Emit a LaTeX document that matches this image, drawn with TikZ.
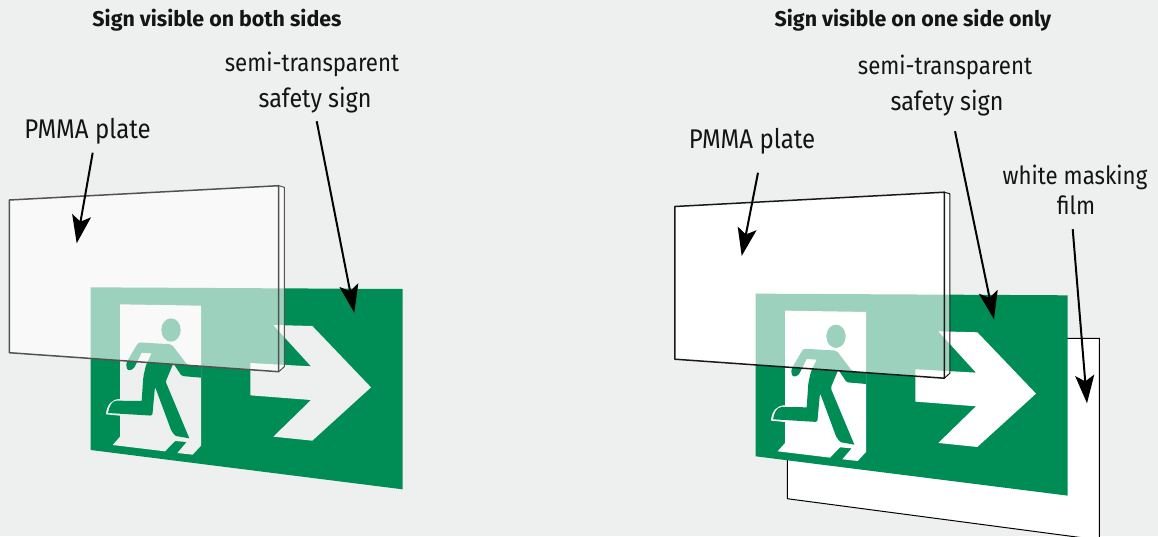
\documentclass[tikz,border=0pt]{standalone}
\usepackage{fontspec}
\setmainfont{Fira Sans}[FakeStretch=0.89]
\newfontfamily\titlefont{Fira Sans}
\usetikzlibrary{arrows.meta}
\definecolor{bgc}{HTML}{EEF0EF}
\definecolor{signgreen}{HTML}{008C55}
\tikzset{
  label text/.style={font=\fontsize{25}{25}\selectfont,inner sep=0pt,text=black!92},
  wide label/.style={font=\fontsize{26.2}{26}\selectfont,inner sep=0pt,text=black!92},
  pmma label/.style={font=\fontsize{27}{27}\selectfont,inner sep=0pt,text=black!92},
  title text/.style={font=\titlefont\fontsize{21.4}{21}\selectfont\bfseries,inner sep=0pt,text=black!92},
  callout/.style={line width=2pt,-{Stealth[length=28pt,width=19pt,inset=6pt]},black},
}
\newcommand\signfig[1]{%
  \begin{scope}[shift={(0,170)},x=.33333pt,y=-.33333pt]
    \fill[signgreen] (272,352)--(1208,357)--(1208,958)--(272,840)--cycle;
    \fill[#1] (820,465)--(937,468)--(1113,652)--(937,812)--(820,800)--(933,690)--(751,676)--(751,579)--(933,589)--cycle;
    \begin{scope}[shift={(300,390)}]
      \fill[#1] (60,13)--(303,17)--(303,437)--(278,464)--(232,459)--(260,426)--(225,423)--(195,454)--(38,435)--(60,410)--(60,347)--(18,343)
        .. controls (20,315) and (35,297) .. (60,297)--cycle;
      \fill[signgreen] (213,90) ellipse [x radius=29,y radius=35];
      \fill[signgreen,rounded corners=2pt] (115,127)--(215,133)--(262,195)[sharp corners]--(303,200)--(303,233)[rounded corners=1.5pt]--(245,228)--(220,190)--(197,245)[sharp corners]--(268,415)--(228,408)[rounded corners=2pt]--(215,395)--(165,260)--(157,347)[sharp corners]--(24,339)
        .. controls (28,318) and (35,303) .. (50,302)--(125,303)[rounded corners=2pt]--(130,230)--(138,195)[sharp corners]--(155,160)--(125,158)[rounded corners=2.5pt]--(100,208)--(82,212)--(78,190)--cycle;
    \end{scope}
  \end{scope}}
\newcommand\platefig[2]{%
  \fill[white,fill opacity=#2] (9.3,200)--(278.7,185.7)--(284.3,187.3)--(284.3,366.7)--(278.7,371.7)--(9.3,352.7)--cycle;
  \draw[#1,line width=1.5pt,line join=round] (9.3,200)--(278.7,185.7)--(278.7,371.7)--(9.3,352.7)--cycle;
  \draw[#1,line width=1pt,line join=round] (278.7,185.7)--(284.3,187.3)--(284.3,366.7)--(278.7,371.7);}
\begin{document}
\begin{tikzpicture}[x=1pt,y=-1pt]
\useasboundingbox (0,0) rectangle (1158,536);
\clip (0,0) rectangle (1158,536);
\fill[bgc] (0,0) rectangle (1158,536);
% left
\signfig{bgc}
\platefig{black!68}{.61}
% right: film, plate backing, sign, plate
\draw[fill=white,line width=1pt] (787.3,338.3)--(1099.3,338.3)--(1099.3,540)--(787.3,498.7)--cycle;
\begin{scope}[shift={(665.6,6.5)}]
  \fill[white] (9.3,200)--(278.7,185.7)--(284.3,187.3)--(284.3,366.7)--(278.7,371.7)--(9.3,352.7)--cycle;
  \begin{scope}[shift={(-0.6,-0.2)}]
  \signfig{white}
  \end{scope}
  \platefig{black!90}{.61}
\end{scope}
% titles
\node[title text] (t1) at (217,20.5) {Sign visible on both sides};
\node[title text] (t2) at (913,20.5) {Sign visible on one side only};
% left labels
\node[label text] (l1a) at (312,64) {semi-transparent};
\node[wide label] (l1b) at (315,100) {safety sign};
\node[pmma label] (l1c) at (87.5,131.5) {PMMA plate};
% right labels
\node[label text] (l2a) at (945,67) {semi-transparent};
\node[wide label] (l2b) at (947,103) {safety sign};
\node[pmma label] (l2c) at (752,141.5) {PMMA plate};
\node[label text] (l2d) at (1075,177.5) {white masking};
\node[label text] (l2e) at (1076,205.5) {film};
% arrow ends
\coordinate (tipA) at (76.7,243.3);
\coordinate (tipB) at (354.3,312.7);
\coordinate (tipC) at (741.7,256);
\coordinate (tipD) at (994,319.3);
\coordinate (tipE) at (1087,403.3);
\draw[callout] ([xshift=5.2pt,yshift=-8pt]l1c.south) -- (tipA);
\draw[callout] ([xshift=1.7pt,yshift=-8pt]l1b.south) -- (tipB);
\draw[callout] ([xshift=6pt,yshift=-18pt]l2c.south) -- (tipC);
\draw[callout] ([xshift=8pt,yshift=-15pt]l2b.south) -- (tipD);
\draw[callout] ([xshift=-3.3pt,yshift=-14pt]l2e.south) -- (tipE);
\end{tikzpicture}
\end{document}
